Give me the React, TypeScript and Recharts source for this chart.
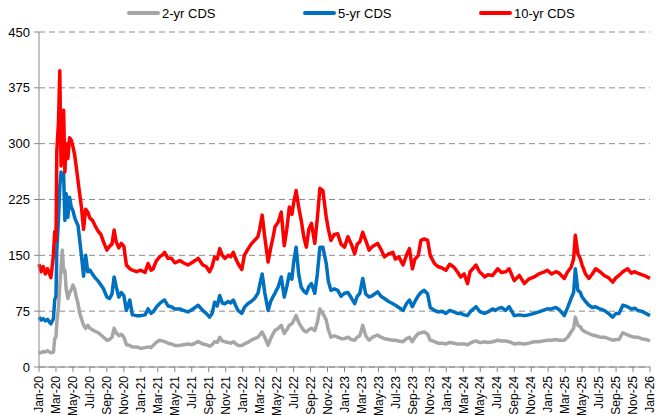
import { LineChart, Line, XAxis, YAxis, CartesianGrid } from "recharts";

// months elapsed since Jan-20 for each observation
const months = [
  0, 0.25, 0.5, 0.75, 1.0, 1.4, 1.7, 1.85, 2.0, 2.1, 2.3, 2.45, 2.6, 2.75, 2.9, 3.05, 3.2, 3.4, 3.6, 3.8,
  4.0, 4.2, 4.4, 4.6, 4.8, 5.0, 5.25, 5.5, 5.75, 6.0,
  6.3, 6.6, 7.0, 7.3, 7.6, 8.0, 8.3, 8.6, 8.85, 9.1,
  9.4, 9.7, 10.0, 10.3, 10.7, 11.0, 11.5, 12.0, 12.5, 12.85,
  13.2, 13.45, 13.8, 14.2, 14.5, 14.8, 15.2, 15.6, 16.0, 16.6,
  17.0, 17.55, 18.0, 18.4, 18.75, 19.3, 19.7, 20.1, 20.4, 20.7,
  21.0, 21.3, 21.6, 21.9, 22.3, 22.6, 22.9, 23.2, 23.45, 23.9,
  24.2, 24.6, 25.0, 25.4, 25.8, 26.0, 26.3, 26.6, 27.0, 27.3,
  27.6, 27.8, 28.2, 28.55, 28.9, 29.2, 29.5, 29.8, 30.0, 30.3,
  30.6, 30.9, 31.2, 31.5, 31.8, 32.1, 32.5, 32.8, 33.1, 33.45,
  33.85, 34.1, 34.4, 34.8, 35.2, 35.6, 36.0, 36.4, 36.8, 37.2,
  37.5, 37.8, 38.15, 38.5, 38.9, 39.3, 39.9, 40.3, 40.7, 41.2,
  41.7, 42.0, 42.4, 42.9, 43.3, 43.65, 44.0, 44.3, 44.7, 45.0,
  45.4, 45.8, 46.1, 46.6, 47.0, 47.5, 47.95, 48.4, 48.9, 49.3,
  49.7, 50.1, 50.5, 50.8, 51.2, 51.5, 51.9, 52.2, 52.5, 52.9,
  53.45, 53.8, 54.05, 54.5, 55.0, 55.4, 56.0, 56.6, 57.2, 57.7,
  58.35, 58.9, 59.4, 59.9, 60.4, 60.9, 61.3, 61.9, 62.3, 62.7,
  63.0, 63.2, 63.5, 63.8, 64.0, 64.4, 64.8, 65.2, 65.6, 66.1,
  66.6, 67.1, 67.6, 68.0, 68.35, 68.8, 69.35, 69.8, 70.2, 70.55,
  71.0, 71.5, 72.0,
];

const cds2 = [
  20, 19, 21, 20, 22, 19, 20, 38, 40, 60, 81, 110, 135, 157, 128, 130, 105, 92, 100, 104,
  110, 105, 94, 85, 72, 65, 56, 52, 56, 52,
  50, 48, 46, 43, 40, 36, 37, 40, 52, 46,
  42, 44, 40, 30, 29, 27, 27, 25, 26, 27,
  26, 29, 33, 36, 35, 34, 32, 31, 29, 29,
  30, 31, 30, 32, 34, 31, 30, 28, 30, 34,
  33, 40, 35, 34, 33, 32, 34, 31, 29, 29,
  31, 33, 36, 38, 40, 43, 47, 40, 29, 38,
  45, 49, 52, 56, 45, 50, 56, 58, 62, 69,
  60, 54, 49, 47, 50, 52, 49, 60, 78, 72,
  63, 50, 40, 42, 40, 38, 38, 40, 37, 36,
  40, 42, 56, 42, 36, 40, 43, 40, 38, 37,
  36, 36, 35, 34, 38, 40, 34, 40, 45, 46,
  47, 44, 36, 34, 32, 32, 31, 33, 32, 31,
  31, 31, 30, 32, 34, 35, 33, 33, 34, 33,
  34, 35, 36, 35, 35, 34, 31, 32, 31, 32,
  34, 34, 35, 36, 36, 37, 36, 36, 40, 47,
  52, 67, 56, 54, 50, 47, 45, 43, 42, 40,
  40, 38, 36, 37, 37, 46, 43, 41, 40, 40,
  38, 37, 35,
];

const cds5 = [
  67, 63, 65, 62, 64, 58, 65, 90, 95, 157, 200, 242, 262, 255, 260, 197, 233, 201, 228, 215,
  210, 201, 195, 190, 170, 150, 122, 150, 128, 130,
  125, 120, 115, 110, 105, 94, 92, 98, 121, 108,
  94, 100, 96, 76, 90, 70, 69, 69, 70, 78,
  72, 74, 80, 85, 88, 90, 82, 81, 78, 78,
  76, 74, 77, 80, 83, 76, 72, 67, 72, 87,
  82, 96, 86, 85, 88, 86, 90, 82, 76, 72,
  80, 85, 88, 92, 99, 110, 125, 100, 76, 88,
  95, 99, 108, 121, 94, 108, 125, 118, 140, 161,
  125, 107, 102, 99, 108, 112, 99, 125, 161, 161,
  139, 115, 103, 105, 103, 95, 99, 100, 93, 85,
  95, 99, 119, 98, 94, 96, 101, 95, 92, 88,
  85, 83, 80, 76, 85, 90, 81, 88, 96, 100,
  103, 98, 80, 76, 74, 75, 72, 76, 74, 72,
  72, 70, 69, 74, 78, 81, 75, 73, 72, 74,
  78, 76, 78, 80, 76, 81, 69, 70, 69, 70,
  72, 74, 76, 78, 78, 80, 77, 69, 80, 92,
  100, 132, 103, 100, 94, 88, 83, 80, 81, 78,
  76, 72, 67, 72, 72, 83, 81, 78, 79, 76,
  75, 72, 69,
];

const cds10 = [
  138, 128, 135, 125, 132, 120, 150, 182, 170, 290, 330, 398, 270, 330, 345, 262, 300, 280, 308, 305,
  296, 285, 268, 250, 232, 215, 185, 212, 208, 200,
  197, 190, 182, 178, 168, 157, 162, 165, 184, 168,
  160, 166, 162, 137, 132, 130, 128, 130, 127, 139,
  130, 132, 142, 148, 150, 154, 146, 146, 140, 143,
  140, 137, 140, 143, 146, 137, 135, 128, 135, 148,
  145, 159, 150, 146, 150, 148, 154, 145, 139, 131,
  150, 158, 165, 170, 175, 185, 204, 175, 141, 160,
  175, 188, 195, 208, 163, 185, 215, 205, 220, 237,
  215, 197, 175, 161, 185, 193, 166, 200, 240, 237,
  201, 185, 170, 178, 179, 165, 161, 175, 165, 152,
  165, 168, 181, 170, 157, 162, 166, 158, 148, 152,
  154, 145, 148, 137, 150, 159, 132, 145, 150, 170,
  172, 170, 150, 139, 135, 133, 130, 138, 134, 128,
  121, 125, 112, 128, 133, 137, 128, 125, 121, 124,
  123, 128, 132, 127, 128, 132, 116, 123, 112, 118,
  121, 125, 127, 130, 125, 128, 126, 119, 128, 134,
  145, 177, 152, 145, 137, 125, 119, 125, 132, 128,
  123, 120, 114, 120, 123, 128, 132, 126, 128, 126,
  124, 122, 119,
];

const tickLabels = [
  "Jan-20", "Mar-20", "May-20", "Jul-20", "Sep-20", "Nov-20",
  "Jan-21", "Mar-21", "May-21", "Jul-21", "Sep-21", "Nov-21",
  "Jan-22", "Mar-22", "May-22", "Jul-22", "Sep-22", "Nov-22",
  "Jan-23", "Mar-23", "May-23", "Jul-23", "Sep-23", "Nov-23",
  "Jan-24", "Mar-24", "May-24", "Jul-24", "Sep-24", "Nov-24",
  "Jan-25", "Mar-25", "May-25", "Jul-25", "Sep-25", "Nov-25",
  "Jan-26",
];
const xTicks = tickLabels.map((_, i) => i * 2);
const yTicks = [0, 75, 150, 225, 300, 375, 450];

const series = [
  { key: "cds2", name: "2-yr CDS", color: "#A6A6A6" },
  { key: "cds5", name: "5-yr CDS", color: "#0070C0" },
  { key: "cds10", name: "10-yr CDS", color: "#FF0000" },
];

const data = months.map((m, i) => ({
  m,
  cds2: cds2[i],
  cds5: cds5[i],
  cds10: cds10[i],
}));

const FONT = "'Liberation Sans', Arial, sans-serif";

function DateTick({ x, y, payload }: any) {
  const label = tickLabels[Math.round(payload.value / 2)];
  return (
    <g transform={`translate(${x},${y})`}>
      <text
        transform="rotate(-90)"
        x={-2}
        y={0}
        dy="0.35em"
        textAnchor="end"
        fontSize={12}
        fontFamily={FONT}
        fill="#000"
      >
        {label}
      </text>
    </g>
  );
}

export default function App() {
  return (
    <div
      style={{
        position: "absolute",
        left: 0,
        top: 0,
        width: 656,
        height: 415,
        background: "#fff",
        fontFamily: FONT,
      }}
    >
      {series.map((s, i) => (
        <div
          key={s.key}
          style={{
            position: "absolute",
            left: 127 + i * 176,
            top: 4,
            height: 18,
            display: "flex",
            alignItems: "center",
            fontSize: 13,
            color: "#000",
            whiteSpace: "nowrap",
          }}
        >
          <span
            style={{
              display: "inline-block",
              width: 33,
              height: 4,
              background: s.color,
              borderRadius: 2,
              marginRight: 2,
            }}
          />
          {s.name}
        </div>
      ))}
      <LineChart
        width={656}
        height={415}
        data={data}
        margin={{ top: 32, right: 6, left: 0, bottom: 0 }}
      >
        <CartesianGrid vertical={false} stroke="#8c8c8c" strokeDasharray="6 4" />
        <XAxis
          dataKey="m"
          type="number"
          domain={[0, 72]}
          ticks={xTicks}
          interval={0}
          height={48}
          tick={<DateTick />}
          tickSize={5}
          axisLine={{ stroke: "#888" }}
          tickLine={{ stroke: "#888" }}
        />
        <YAxis
          domain={[0, 450]}
          ticks={yTicks}
          interval={0}
          width={39}
          tickSize={5}
          tickMargin={4}
          axisLine={{ stroke: "#888" }}
          tickLine={{ stroke: "#888" }}
          tick={{ fontSize: 13, fill: "#000", fontFamily: FONT }}
        />
        {series.map((s) => (
          <Line
            key={s.key}
            dataKey={s.key}
            name={s.name}
            type="linear"
            stroke={s.color}
            strokeWidth={3.5}
            strokeLinejoin="round"
            dot={false}
            activeDot={false}
            isAnimationActive={false}
          />
        ))}
      </LineChart>
    </div>
  );
}
